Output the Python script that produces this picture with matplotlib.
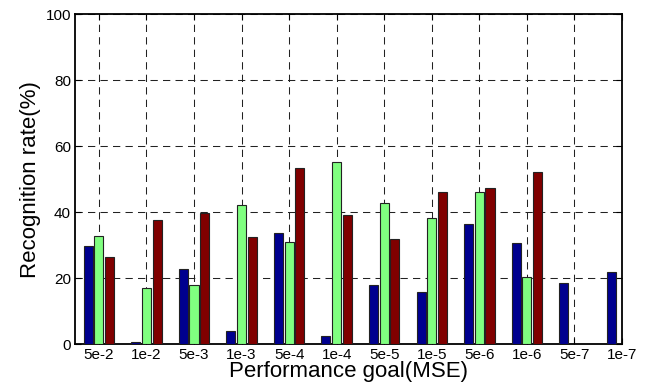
import numpy as np
import matplotlib.pyplot as plt

plt.rcParams['font.family'] = ['Liberation Sans', 'DejaVu Sans']

# performance goals and recognition rates for three feature sets
goals = ['5e-2', '1e-2', '5e-3', '1e-3', '5e-4', '1e-4',
         '5e-5', '1e-5', '5e-6', '1e-6', '5e-7', '1e-7']
rate_a = [29.8, 0.6, 22.6, 3.9, 33.7, 2.5, 18.0, 15.8, 36.5, 30.7, 18.5, 21.9]
rate_b = [32.8, 17.1, 17.8, 42.0, 30.8, 55.2, 42.8, 38.2, 46.2, 20.4, 0, 0]
rate_c = [26.4, 37.5, 39.7, 32.3, 53.3, 39.0, 31.7, 46.2, 47.4, 52.0, 0, 0]

x = np.arange(1, len(goals) + 1)
step = 0.225
width = 0.19

fig = plt.figure(figsize=(6.53, 3.91), dpi=100)
ax = fig.add_axes([0.115, 0.12, 0.8375, 0.844])

ax.bar(x - step, rate_a, width, color='#00008F', edgecolor='#222222', linewidth=0.8, zorder=3)
ax.bar(x, rate_b, width, color='#80FF80', edgecolor='#222222', linewidth=0.8, zorder=3)
ax.bar(x + step, rate_c, width, color='#800000', edgecolor='#222222', linewidth=0.8, zorder=3)

ax.set_xlim(0.5, 12)
ax.set_ylim(0, 100)
ax.set_xticks(x)
ax.set_xticklabels(goals)
ax.set_yticks(np.arange(0, 101, 20))

ax.grid(True, color='#222222', linestyle=(0, (7, 5)), linewidth=0.75, zorder=0)
ax.tick_params(direction='in', top=True, right=True, labelsize=11, length=4, pad=3)
for s in ax.spines.values():
    s.set_linewidth(1.3)

ax.set_xlabel('Performance goal(MSE)', fontsize=16, labelpad=-1)
ax.set_ylabel('Recognition rate(%)', fontsize=16, labelpad=3)

fig.savefig('out.png', dpi=100)
